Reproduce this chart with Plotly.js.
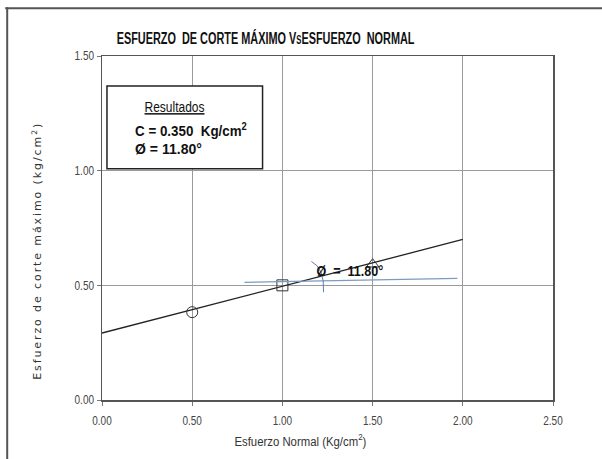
<!DOCTYPE html>
<html>
<head>
<meta charset="utf-8">
<script src="https://cdn.plot.ly/plotly-3.0.1.min.js"></script>
<style>html,body{margin:0;padding:0;background:#fff;}#chart{width:602px;height:459px;}</style>
</head>
<body>
<div id="chart"></div>
<script>
// Data
const normalStress = [0.50, 1.00, 1.50];          // Kg/cm²
const shearStress  = [0.383, 0.500, 0.592];       // Kg/cm²
const markerSymbols = ["circle-open", "square-open", "triangle-up-open"];
const fitX = [0.00, 2.00];
const fitY = [0.292, 0.700];
const xTicks = [0, 0.5, 1.0, 1.5, 2.0, 2.5];
const xTickLabels = ["0.00", "0.50", "1.00", "1.50", "2.00", "2.50"];
const yTicks = [0, 0.5, 1.0, 1.5];
const yTickLabels = ["0.00", "0.50", "1.00", "1.50"];
const titleText = "ESFUERZO  DE CORTE MÁXIMO V<span style='font-size:12px'>S</span>ESFUERZO  NORMAL";
const cohesion = "0.350";
const phi = "11.80";

const sans = "'Liberation Sans', Arial, sans-serif";

const traces = [
  {
    x: fitX, y: fitY, type: "scatter", mode: "lines",
    line: {color: "#222", width: 1.3}, hoverinfo: "skip", showlegend: false
  },
  {
    x: normalStress, y: shearStress, type: "scatter", mode: "markers",
    marker: {symbol: markerSymbols, size: 11, color: "#333", line: {width: 1, color: "#333"}},
    showlegend: false
  }
];

const layout = {
  width: 602, height: 459,
  margin: {l: 102, r: 49, t: 56, b: 59},
  paper_bgcolor: "#fff", plot_bgcolor: "#fff",
  showlegend: false,
  xaxis: {
    range: [0, 2.5], tickvals: xTicks, ticktext: xTickLabels,
    showgrid: true, gridcolor: "#9a9a9a", gridwidth: 1,
    zeroline: false, showline: true, linecolor: "#555", linewidth: 1.5, mirror: true,
    ticks: "outside", ticklen: 4, tickcolor: "#777", ticklabelstandoff: 5,
    tickfont: {family: sans, size: 12.5, color: "#444"}
  },
  yaxis: {
    range: [0, 1.5], tickvals: yTicks, ticktext: yTickLabels,
    showgrid: true, gridcolor: "#9a9a9a", gridwidth: 1,
    zeroline: false, showline: true, linecolor: "#555", linewidth: 1.5, mirror: true,
    ticks: "outside", ticklen: 4, tickcolor: "#777",
    tickfont: {family: sans, size: 12.5, color: "#444"}
  },
  shapes: [
    // outer frame (top & left visible)
    {type: "line", xref: "paper", yref: "paper", x0: -0.2146, x1: 1.2, y0: 1.139, y1: 1.139, line: {color: "#555", width: 2}},
    {type: "line", xref: "paper", yref: "paper", x0: -0.2102, x1: -0.2102, y0: 1.142, y1: -0.2, line: {color: "#555", width: 2}},
    // results box
    {type: "rect", xref: "paper", yref: "paper", x0: 0.011, x1: 0.356, y0: 0.672, y1: 0.913,
     fillcolor: "#fff", line: {color: "#222", width: 1.5}, layer: "above"},
    // angle reference line (blue)
    {type: "line", xref: "x", yref: "y", x0: 0.79, y0: 0.513, x1: 1.97, y1: 0.530,
     line: {color: "#7a9cc0", width: 1.3}},
    // angle arc
    {type: "path", xref: "x", yref: "y", path: "M 1.161 0.604 Q 1.235 0.575 1.228 0.470",
     line: {color: "#5d7fb0", width: 1}}
  ],
  annotations: [
    {text: titleText, xref: "paper", yref: "paper", x: 0.363, y: 1.052, xanchor: "center", yanchor: "middle",
     showarrow: false, font: {family: sans, size: 17, color: "#111", weight: "bold"}},
    {text: "Esfuerzo de corte máximo (kg/cm<sup>2</sup>)", xref: "paper", yref: "paper", x: -0.144, y: 0.432,
     xanchor: "center", yanchor: "middle", textangle: -90, showarrow: false,
     font: {family: "'DejaVu Sans', Verdana, sans-serif", size: 11, color: "#333"}},
    {text: "Esfuerzo Normal (Kg/cm<sup>2</sup>)", xref: "paper", yref: "paper", x: 0.44, y: -0.116,
     xanchor: "center", yanchor: "middle", showarrow: false,
     font: {family: sans, size: 13.5, color: "#333"}},
    {text: "<u>Resultados</u>", xref: "paper", yref: "paper", x: 0.1615, y: 0.852, xanchor: "center", yanchor: "middle",
     showarrow: false, font: {family: sans, size: 15, color: "#111"}},
    {text: "C = " + cohesion + "  Kg/cm<sup>2</sup>", xref: "paper", yref: "paper", x: 0.0686, y: 0.786, xanchor: "left", yanchor: "middle",
     showarrow: false, font: {family: sans, size: 15, color: "#111", weight: "bold"}},
    {text: "Ø = " + phi + "°", xref: "paper", yref: "paper", x: 0.0686, y: 0.730, xanchor: "left", yanchor: "middle",
     showarrow: false, font: {family: sans, size: 15, color: "#111", weight: "bold"}},
    {text: "Ø  =  " + phi + "°", xref: "x", yref: "y", x: 1.377, y: 0.565, xanchor: "center", yanchor: "middle",
     showarrow: false, font: {family: sans, size: 15, color: "#111", weight: "bold"}}
  ]
};

// target rendered widths (px) to mimic the condensed typeface of the original
const fitWidths = [298, null, 132, 60, 112, 67, 67];
const fitOrigin = ["center", "center", "center", "center", "left", "left", "center"];

Plotly.newPlot("chart", traces, layout, {displayModeBar: false, staticPlot: true}).then(function (gd) {
  const anns = gd.querySelectorAll(".annotation");
  anns.forEach(function (a, i) {
    const t = a.querySelector("text.annotation-text");
    if (!t) return;
    if (i === 1) { t.style.letterSpacing = "1.9px"; return; }
    if (!fitWidths[i]) return;
    const bb = t.getBBox();
    if (!bb.width) return;
    const s = fitWidths[i] / bb.width;
    const ox = fitOrigin[i] === "left" ? bb.x : bb.x + bb.width / 2;
    t.setAttribute("transform", "translate(" + ox + ",0) scale(" + s + ",1) translate(" + (-ox) + ",0)");
  });
  // condense tick labels like the original narrow font
  gd.querySelectorAll(".xtick text, .ytick text").forEach(function (t) {
    const bb = t.getBBox();
    const ox = t.getAttribute("text-anchor") === "end" ? bb.x + bb.width : bb.x + bb.width / 2;
    t.setAttribute("transform", (t.getAttribute("transform") || "") + " translate(" + ox + ",0) scale(0.8,1) translate(" + (-ox) + ",0)");
  });
});
</script>
</body>
</html>
